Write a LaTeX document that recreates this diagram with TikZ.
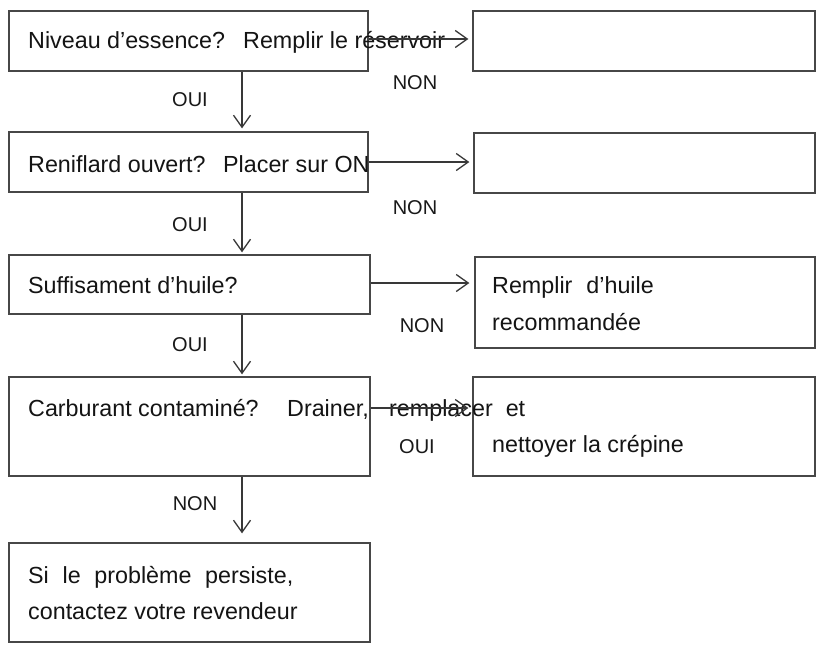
\documentclass[tikz,border=0pt]{standalone}
\usepackage{fontspec}
\setmainfont{Liberation Sans}
\usetikzlibrary{arrows.meta}
\begin{document}
\begin{tikzpicture}[x=1pt,y=-1pt,
  box/.style={draw=black!72, line width=1.3pt, rectangle, inner sep=0pt},
  txt/.style={anchor=base west, inner sep=0pt, text=black!92, font=\fontsize{23.3}{28}\selectfont},
  lbl/.style={inner sep=0pt, text=black!90, font=\fontsize{20}{24}\selectfont},
  arr/.style={draw=black!78, line width=1.3pt, -{Straight Barb[length=12pt,width=17pt,line width=1.3pt]}}]
\useasboundingbox (0,0) rectangle (817,645);
\path[fill=white] (0,0) rectangle (817,645);
% left boxes
\node[box, minimum width=359pt, minimum height=60pt] (L1) at (188.5,41) {};
\node[box, minimum width=359pt, minimum height=60pt] (L2) at (188.5,162) {};
\node[box, minimum width=361pt, minimum height=59pt] (L3) at (189.5,284.5) {};
\node[box, minimum width=361pt, minimum height=99pt] (L4) at (189.5,426.5) {};
\node[box, minimum width=361pt, minimum height=99pt] (L5) at (189.5,592.5) {};
% right boxes
\node[box, minimum width=342pt, minimum height=60pt] (R1) at (644,41) {};
\node[box, minimum width=341pt, minimum height=60pt] (R2) at (644.5,163) {};
\node[box, minimum width=340pt, minimum height=91pt] (R3) at (645,302.5) {};
\node[box, minimum width=342pt, minimum height=99pt] (R4) at (644,426.5) {};
% texts
\node[txt] (t1a) at (28,48) {Niveau d’essence?};
\node[txt] (t1b) at (243,48) {Remplir le réservoir};
\node[txt] (t2a) at (28,172) {Reniflard ouvert?};
\node[txt] (t2b) at (223,172) {Placer sur ON};
\node[txt] (t3) at (28,293) {Suffisament d’huile?};
\node[txt] (t4a) at (28,416) {Carburant contaminé?};
\node[txt] (t4b) at (287,416) {Drainer,};
\node[txt] (t4c) at (389,416) {remplacer\hspace{13pt}et};
\node[txt] (t4d) at (492,452) {nettoyer la crépine};
\node[txt] (r3a) at (492,293) {Remplir\hspace{14pt}d’huile};
\node[txt] (r3b) at (492,330) {recommandée};
\node[txt] (t5a) at (28,583) {Si\hspace{13.7pt}le\hspace{13.7pt}problème\hspace{13.7pt}persiste,};
\node[txt] (t5b) at (28,619) {contactez votre revendeur};
% connectors
\coordinate (ax) at (242,0);
\coordinate (c1) at (0,39);
\coordinate (c2) at (0,162);
\coordinate (c3) at (0,283);
\coordinate (c4) at (0,408);
\draw[arr, shorten >=3pt] (L1.south -| ax) -- (L2.north -| ax);
\draw[arr, shorten >=2pt] (L2.south -| ax) -- (L3.north -| ax);
\draw[arr, shorten >=2pt] (L3.south -| ax) -- (L4.north -| ax);
\draw[arr, shorten >=9pt] (L4.south -| ax) -- (L5.north -| ax);
\draw[arr, shorten >=4pt] (L1.east |- c1) -- (R1.west |- c1);
\draw[arr, shorten >=4pt] (L2.east |- c2) -- (R2.west |- c2);
\draw[arr, shorten >=5pt] (L3.east |- c3) -- (R3.west |- c3);
\draw[arr, shorten >=4pt] (L4.east |- c4) -- (R4.west |- c4);
% labels
\node[lbl] (o1) at (190,100) {OUI};
\node[lbl] (n1) at (415,83) {NON};
\node[lbl] (n2) at (415,208) {NON};
\node[lbl] (o2) at (190,225) {OUI};
\node[lbl] (n3) at (422,326) {NON};
\node[lbl] (o3) at (190,345) {OUI};
\node[lbl] (o4) at (417,447) {OUI};
\node[lbl] (n4) at (195,504) {NON};
\end{tikzpicture}
\end{document}
